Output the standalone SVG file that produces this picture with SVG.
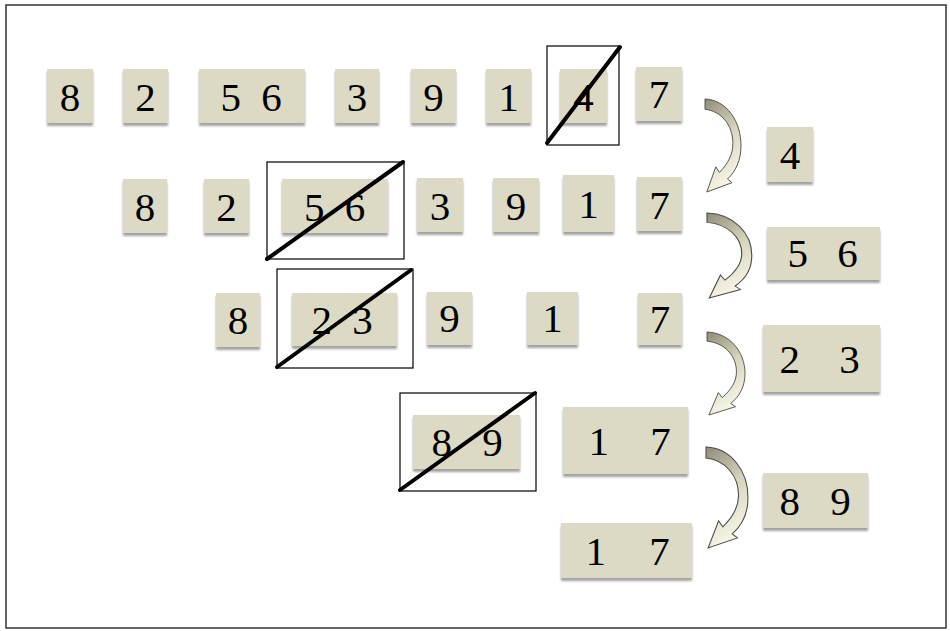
<svg xmlns="http://www.w3.org/2000/svg" width="950" height="631" viewBox="0 0 950 631">
<defs>
<filter id="sh" x="-10%" y="-10%" width="120%" height="130%">
<feDropShadow dx="0" dy="3" stdDeviation="1.3" flood-color="#555" flood-opacity="0.55"/>
</filter>
<linearGradient id="ag" x1="0" y1="0" x2="0.3" y2="1">
<stop offset="0" stop-color="#8f8c78"/>
<stop offset="0.5" stop-color="#d6d3bd"/>
<stop offset="1" stop-color="#f6f4e6"/>
</linearGradient>
<path id="carrow" d="M0,0 C24,1 40,24 40,50 C40,66 34,78 25,86 L30,90 L2,100 L12,73 L16,79 C25,70 31,60 31,48 C31,28 18,13 0,11 Z"/>
</defs>
<style>
.b{fill:#dcd9c4;filter:url(#sh)}
.t{font-family:"Liberation Serif","Times New Roman",serif;font-size:41px;fill:#000;text-anchor:middle}
.x{fill:none;stroke:#000;stroke-width:1.2}
.d{stroke:#000;stroke-width:4;stroke-linecap:round}
.a{fill:url(#ag);stroke:#4a4a40;stroke-width:1;vector-effect:non-scaling-stroke}
</style>
<rect x="0" y="0" width="950" height="631" fill="#fff"/>
<rect x="6" y="5" width="940" height="623" fill="none" stroke="#333" stroke-width="1.5"/>

<!-- Row 1 -->
<g id="r1-8"><rect class="b" x="47" y="69" width="46" height="54"/><text class="t" x="70" y="111">8</text></g>
<g id="r1-2"><rect class="b" x="123" y="69" width="45" height="54"/><text class="t" x="145.5" y="111">2</text></g>
<g id="r1-56"><rect class="b" x="199" y="69" width="106" height="54"/><text class="t" x="251" y="111" word-spacing="10">5 6</text></g>
<g id="r1-3"><rect class="b" x="335" y="69" width="44" height="54"/><text class="t" x="357" y="111">3</text></g>
<g id="r1-9"><rect class="b" x="411" y="69" width="45" height="54"/><text class="t" x="433.5" y="111">9</text></g>
<g id="r1-1"><rect class="b" x="486" y="69" width="45" height="54"/><text class="t" x="508.5" y="111">1</text></g>
<g id="r1-4"><rect class="b" x="560" y="69" width="47" height="54"/><text class="t" x="583.5" y="111">4</text><rect class="x" x="547" y="46" width="72" height="99"/><line class="d" x1="547" y1="143" x2="620" y2="47"/></g>
<g id="r1-7"><rect class="b" x="636" y="67" width="46" height="54"/><text class="t" x="659" y="108">7</text></g>
<g id="p-4"><rect class="b" x="767" y="127" width="46" height="55"/><text class="t" x="790" y="169">4</text></g>

<!-- Row 2 -->
<g id="r2-8"><rect class="b" x="123" y="179" width="44" height="54"/><text class="t" x="145" y="221">8</text></g>
<g id="r2-2"><rect class="b" x="204" y="179" width="45" height="54"/><text class="t" x="226.5" y="221">2</text></g>
<g id="r2-56"><rect class="b" x="282" y="179" width="106" height="54"/><text class="t" x="334.5" y="221" word-spacing="10">5 6</text><rect class="x" x="267" y="162" width="137" height="97"/><line class="d" x1="267" y1="259" x2="403" y2="162"/></g>
<g id="r2-3"><rect class="b" x="417" y="178" width="46" height="54"/><text class="t" x="440" y="220">3</text></g>
<g id="r2-9"><rect class="b" x="493" y="178" width="46" height="54"/><text class="t" x="516" y="220">9</text></g>
<g id="r2-1"><rect class="b" x="563" y="175" width="51" height="57"/><text class="t" x="588.5" y="218">1</text></g>
<g id="r2-7"><rect class="b" x="637" y="177" width="45" height="54"/><text class="t" x="659.5" y="219">7</text></g>
<g id="p-56"><rect class="b" x="767" y="227" width="113" height="53"/><text class="t" x="822.5" y="267" word-spacing="19">5 6</text></g>

<!-- Row 3 -->
<g id="r3-8"><rect class="b" x="216" y="293" width="44" height="54"/><text class="t" x="238" y="334">8</text></g>
<g id="r3-23"><rect class="b" x="292" y="293" width="105" height="53"/><text class="t" x="342" y="334" word-spacing="10">2 3</text><rect class="x" x="277" y="269" width="136" height="99"/><line class="d" x1="277" y1="367" x2="411" y2="270"/></g>
<g id="r3-9"><rect class="b" x="427" y="292" width="45" height="53"/><text class="t" x="449.5" y="332">9</text></g>
<g id="r3-1"><rect class="b" x="527" y="292" width="51" height="53"/><text class="t" x="552.5" y="332">1</text></g>
<g id="r3-7"><rect class="b" x="638" y="293" width="44" height="52"/><text class="t" x="660" y="333">7</text></g>
<g id="p-23"><rect class="b" x="763" y="325" width="117" height="67"/><text class="t" x="819.5" y="373" word-spacing="29">2 3</text></g>

<!-- Row 4 -->
<g id="r4-89"><rect class="b" x="413" y="415" width="107" height="54"/><text class="t" x="467" y="456" word-spacing="20">8 9</text><rect class="x" x="400" y="393" width="136" height="98"/><line class="d" x1="400" y1="490" x2="535" y2="393"/></g>
<g id="r4-17"><rect class="b" x="563" y="407" width="125" height="67"/><text class="t" x="629.5" y="455" word-spacing="31">1 7</text></g>
<g id="p-89"><rect class="b" x="763" y="473" width="105" height="55"/><text class="t" x="815" y="515" word-spacing="20">8 9</text></g>

<!-- Row 5 -->
<g id="r5-17"><rect class="b" x="561" y="523" width="131" height="55"/><text class="t" x="627.5" y="565" word-spacing="33">1 7</text></g>

<g id="connectors">
<use href="#carrow" class="a" transform="translate(705,99) scale(0.9,0.93)"/>
<use href="#carrow" class="a" transform="translate(707,213) scale(1.12,0.85)"/>
<use href="#carrow" class="a" transform="translate(707,332) scale(0.95,0.83)"/>
<use href="#carrow" class="a" transform="translate(706,447) scale(1.05,1.01)"/>
</g>
</svg>
